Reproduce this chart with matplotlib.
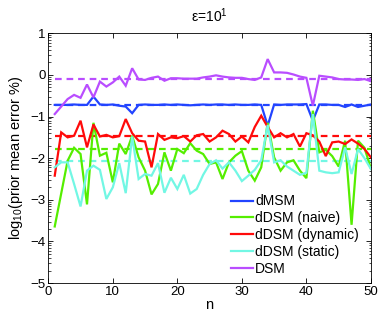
import numpy as np
import matplotlib
matplotlib.use("Agg")
import matplotlib.pyplot as plt
from matplotlib.ticker import FixedLocator

plt.rcParams['font.family'] = ['Liberation Sans', 'DejaVu Sans']
plt.rcParams['mathtext.default'] = 'regular'

n = list(range(1, 51))

dmsm = [-0.72, -0.72, -0.72, -0.71, -0.72, -0.72, -0.52, -0.71, -0.72, -0.71,
        -0.74, -0.76, -0.92, -0.72, -0.71, -0.72, -0.72, -0.71, -0.72, -0.71,
        -0.72, -0.73, -0.72, -0.71, -0.72, -0.71, -0.71, -0.72, -0.71, -0.72,
        -0.72, -0.71, -0.72, -1.22, -0.71, -0.72, -0.71, -0.71, -0.71, -0.70,
        -1.10, -0.71, -0.71, -0.72, -0.72, -0.77, -0.71, -0.77, -0.74, -0.71]

dsm = [-0.94, -0.76, -0.58, -0.48, -0.55, -0.23, -0.54, -0.16, -0.28, -0.18,
       -0.04, -0.26, 0.16, -0.11, -0.12, -0.07, -0.04, -0.14, -0.08, -0.08,
       -0.09, -0.09, -0.09, -0.06, -0.04, -0.01, -0.04, -0.06, -0.07, -0.07,
       -0.10, -0.12, -0.06, 0.38, 0.06, 0.06, 0.05, 0.01, -0.04, -0.07,
       -0.74, -0.02, -0.04, -0.06, -0.10, -0.11, -0.11, -0.12, -0.10, -0.15]

naive = [-3.64, -2.85, -2.06, -1.75, -1.90, -3.11, -1.15, -1.94, -1.87, -2.58,
         -1.65, -1.90, -1.46, -1.98, -2.30, -2.87, -2.62, -1.86, -2.30, -1.78,
         -1.88, -1.64, -1.82, -1.90, -2.14, -2.10, -2.50, -2.10, -1.94, -1.83,
         -2.30, -2.54, -2.22, -1.15, -1.98, -2.30, -2.10, -2.05, -2.30, -2.48,
         -0.86, -1.86, -1.80, -1.95, -2.20, -1.58, -3.60, -1.58, -1.75, -2.25]

dynamic = [-2.42, -1.38, -1.50, -1.46, -1.10, -1.74, -1.19, -1.48, -1.44, -1.50,
           -1.47, -1.06, -1.40, -1.58, -1.60, -2.22, -1.42, -1.56, -1.50, -1.52,
           -1.47, -1.60, -1.45, -1.42, -1.60, -1.50, -1.34, -1.42, -1.60, -1.48,
           -1.62, -1.25, -0.98, -1.25, -1.50, -1.40, -1.50, -1.42, -1.72, -1.40,
           -1.45, -1.60, -1.95, -1.62, -1.60, -1.66, -1.55, -1.65, -1.78, -1.98]

static = [-2.22, -2.10, -2.10, -2.62, -3.16, -2.30, -2.18, -2.28, -2.98, -2.70,
          -2.12, -2.84, -1.48, -2.50, -2.38, -2.42, -2.12, -2.83, -2.47, -2.74,
          -2.40, -2.85, -2.74, -2.40, -2.14, -2.05, -2.25, -2.10, -2.30, -2.55,
          -2.42, -2.28, -2.05, -1.20, -2.10, -2.05, -2.20, -2.30, -2.40, -2.35,
          -0.94, -2.30, -2.34, -2.36, -2.34, -1.74, -2.38, -1.78, -2.00, -2.26]

ref_levels = {'dMSM': -0.72, 'dDSM (naive)': -1.79, 'dDSM (dynamic)': -1.47,
              'dDSM (static)': -2.07, 'DSM': -0.10}

colors = {'dMSM': '#2244ff', 'dDSM (naive)': '#55ee00', 'dDSM (dynamic)': '#ff0a0a',
          'dDSM (static)': '#72f7e4', 'DSM': '#b94dff'}

series = [('dMSM', dmsm), ('dDSM (naive)', naive), ('dDSM (dynamic)', dynamic),
          ('dDSM (static)', static), ('DSM', dsm)]
draw_order = ['dMSM', 'dDSM (naive)', 'dDSM (dynamic)', 'dDSM (static)', 'DSM']

fig = plt.figure(figsize=(3.82, 3.17), dpi=100)
ax = fig.add_axes([0.1264, 0.107, 0.8446, 0.788])

handles = {}
data = dict(series)
for name in draw_order:
    c = colors[name]
    ax.plot([n[0], n[-1]], [ref_levels[name]] * 2, color=c, lw=1.6,
            dashes=(3.0, 2.2), zorder=2)
for name in draw_order:
    c = colors[name]
    h, = ax.plot(n, data[name], color=c, lw=1.6, zorder=3, solid_joinstyle='miter')
    handles[name] = h

ax.set_xlim(0, 50)
ax.set_ylim(-5, 1)
ax.set_xticks([0, 10, 20, 30, 40, 50])
ax.set_yticks([-5, -4, -3, -2, -1, 0, 1])
minor = [k + np.log10(m) for k in range(-5, 1) for m in range(2, 10)]
ax.yaxis.set_minor_locator(FixedLocator(minor))
ax.tick_params(axis='both', which='both', direction='in', top=True, right=True,
               labelsize=9.5, pad=2)
ax.tick_params(which='major', length=3.5, width=0.6)
ax.tick_params(which='minor', length=1.8, width=0.5)
ax.set_yticklabels(['\u22125', '\u22124', '\u22123', '\u22122', '\u22121', '0', '1'])
for s in ax.spines.values():
    s.set_linewidth(0.6)

ax.set_xlabel('n', fontsize=10.5, labelpad=0)
ax.set_ylabel('log$_{10}$(prior mean error %)', fontsize=10.5, labelpad=4)
ax.set_title('\u03b5=10$^{1}$', fontsize=10, pad=8)

ax.legend([handles[k] for k, _ in series], [k for k, _ in series],
          loc='lower left', bbox_to_anchor=(0.565, 0.03), borderpad=0,
          borderaxespad=0, frameon=False, fontsize=10, handlelength=1.6,
          handletextpad=0.15, labelspacing=0.2)

fig.savefig('out.png', dpi=100)
